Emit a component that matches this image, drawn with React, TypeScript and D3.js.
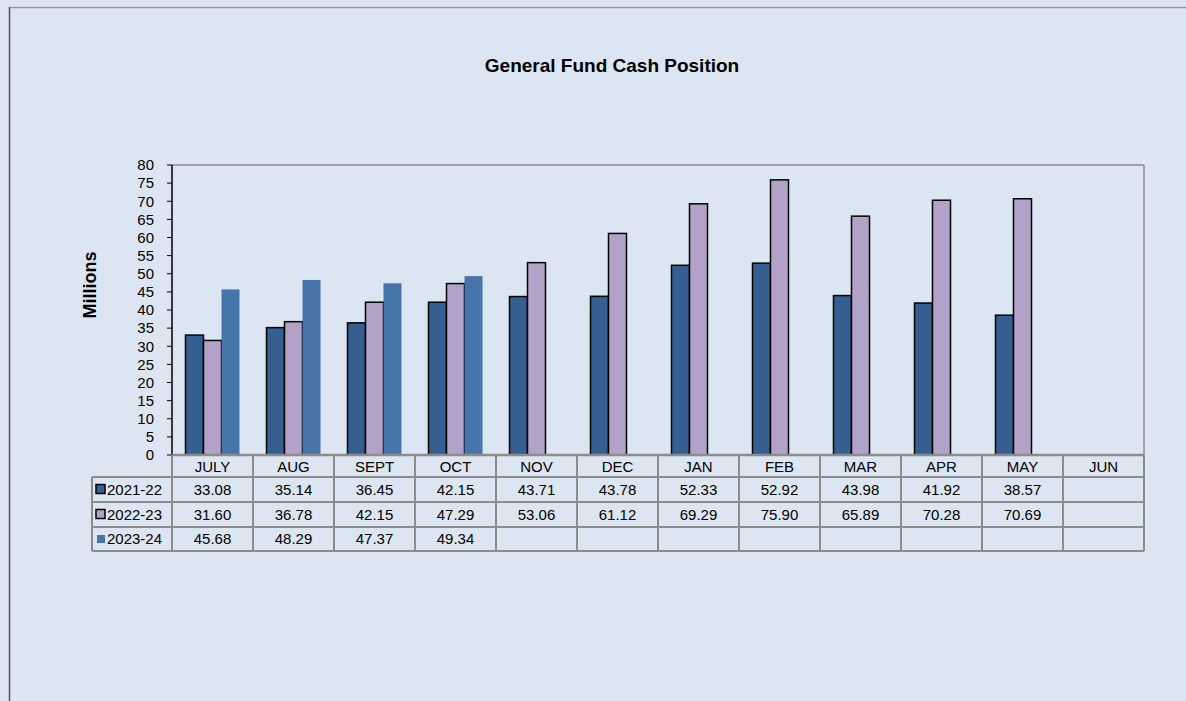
import React from "react";
import * as d3 from "d3";

const months = ["JULY", "AUG", "SEPT", "OCT", "NOV", "DEC", "JAN", "FEB", "MAR", "APR", "MAY", "JUN"];
const seriesNames = ["2021-22", "2022-23", "2023-24"];
const fy2122: (number | null)[] = [33.08, 35.14, 36.45, 42.15, 43.71, 43.78, 52.33, 52.92, 43.98, 41.92, 38.57, null];
const fy2223: (number | null)[] = [31.60, 36.78, 42.15, 47.29, 53.06, 61.12, 69.29, 75.90, 65.89, 70.28, 70.69, null];
const fy2324: (number | null)[] = [45.68, 48.29, 47.37, 49.34, null, null, null, null, null, null, null, null];
const yTicks = d3.range(0, 85, 5);

const colors = ["#355f90", "#b3a2c7", "#4674ab"];
const strokes = ["#000", "#000", "none"];

const W = 1186, H = 701;
const left = 172, right = 1144, top = 165, bottom = 455;
const rowH = [22, 25, 25, 24];
const legendLeft = 92;
const font = "Arial, 'Liberation Sans', sans-serif";

export default function App() {
  const series = [fy2122, fy2223, fy2324];
  const x = d3.scaleBand<string>().domain(months).range([left, right]).paddingInner(0).paddingOuter(0);
  const x1 = d3.scaleBand<number>().domain([0, 1, 2]).range([0, x.bandwidth()]).paddingOuter(0.75).paddingInner(0);
  const y = d3.scaleLinear().domain([0, 80]).range([bottom, top]);

  const rowTops: number[] = [];
  let acc = bottom;
  rowH.forEach((h) => { rowTops.push(acc); acc += h; });
  const tableBottom = acc;
  const grid = "#8c8c8c";

  return (
    <svg width={W} height={H} style={{ position: "absolute", left: 0, top: 0 }} fontFamily={font}>
      <rect x={0} y={0} width={W} height={H} fill="#dce6f2" />
      <line x1={9} x2={W} y1={7.5} y2={7.5} stroke="#9a9a9a" strokeWidth={1.5} />
      <line x1={9.5} x2={9.5} y1={7} y2={H} stroke="#555" strokeWidth={1.5} />

      <text x={612} y={72} textAnchor="middle" fontSize={19} fontWeight="bold" fill="#000">
        General Fund Cash Position
      </text>
      <text transform={`translate(96,285) rotate(-90)`} textAnchor="middle" fontSize={18} fontWeight="bold" fill="#000">
        Millions
      </text>

      {/* plot frame */}
      <line x1={left} x2={right} y1={top} y2={top} stroke={grid} strokeWidth={1.5} />
      <line x1={right} x2={right} y1={top} y2={bottom} stroke={grid} strokeWidth={1.5} />

      {/* bars */}
      {series.map((s, si) =>
        s.map((v, i) =>
          v == null ? null : (
            <rect
              key={`${si}-${i}`}
              x={x(months[i])! + x1(si)!}
              y={y(v)}
              width={x1.bandwidth()}
              height={y(0) - y(v)}
              fill={colors[si]}
              stroke={strokes[si]}
              strokeWidth={1.5}
            />
          )
        )
      )}

      {/* y axis */}
      <line x1={left} x2={left} y1={top} y2={bottom} stroke="#000" strokeWidth={1.5} />
      {yTicks.map((t) => (
        <g key={t}>
          <line x1={left - 5} x2={left} y1={y(t)} y2={y(t)} stroke="#000" />
          <text x={154} y={y(t)} dy="0.35em" textAnchor="end" fontSize={15} fill="#000">{t}</text>
        </g>
      ))}

      {/* data table */}
      <line x1={left} x2={right} y1={bottom} y2={bottom} stroke={grid} strokeWidth={2.5} />
      {rowTops.slice(1).map((ry, k) => (
        <line key={k} x1={legendLeft} x2={right} y1={ry} y2={ry} stroke={grid} strokeWidth={2} />
      ))}
      <line x1={legendLeft} x2={right} y1={tableBottom} y2={tableBottom} stroke={grid} strokeWidth={2} />
      <line x1={legendLeft} x2={legendLeft} y1={rowTops[1]} y2={tableBottom} stroke={grid} strokeWidth={2} />
      {months.map((m) => (
        <line key={m} x1={x(m)!} x2={x(m)!} y1={bottom} y2={tableBottom} stroke={grid} strokeWidth={2} />
      ))}
      <line x1={right} x2={right} y1={bottom} y2={tableBottom} stroke={grid} strokeWidth={2} />

      {months.map((m) => (
        <text key={m} x={x(m)! + x.bandwidth() / 2} y={rowTops[0] + rowH[0] / 2 + 1} dy="0.35em" textAnchor="middle" fontSize={15} fill="#000">{m}</text>
      ))}
      {series.map((s, si) => {
        const cy = rowTops[si + 1] + rowH[si + 1] / 2;
        return (
          <g key={si}>
            <rect
              x={si === 2 ? 97 : 96}
              y={cy - (si === 2 ? 4 : 5)}
              width={si === 2 ? 8 : 9}
              height={si === 2 ? 8 : 9}
              fill={colors[si]}
              stroke={si === 2 ? "none" : "#000"}
              strokeWidth={1.5}
            />
            <text x={107} y={cy} dy="0.35em" fontSize={15} fill="#000">{seriesNames[si]}</text>
            {s.map((v, i) =>
              v == null ? null : (
                <text key={i} x={x(months[i])! + x.bandwidth() / 2} y={cy} dy="0.35em" textAnchor="middle" fontSize={15} fill="#000">
                  {v.toFixed(2)}
                </text>
              )
            )}
          </g>
        );
      })}
    </svg>
  );
}
